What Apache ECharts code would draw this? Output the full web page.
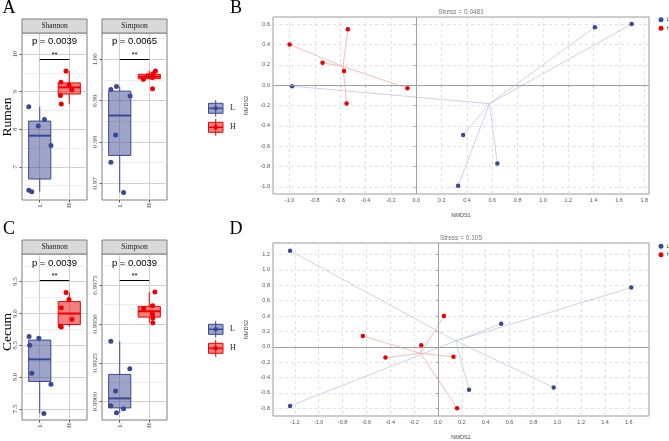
<!DOCTYPE html>
<html><head><meta charset="utf-8">
<script src="https://cdn.jsdelivr.net/npm/echarts@6/dist/echarts.min.js"></script>
<style>html,body{margin:0;padding:0;background:#fff}#c{width:669px;height:441px}</style>
</head><body><div id="c"></div>
<script>
// ---------- DATA ----------
const groups = ['L', 'H'];
// Boxplot panels: jittered x position (1 = L, 2 = H) and value of each sample
const rumenShannonL_x = [0.63, 0.95, 1.16, 1.38, 0.63, 0.73];
const rumenShannonL   = [8.60, 8.09, 8.26, 7.57, 6.38, 6.34];
const rumenShannonH_x = [1.89, 1.72, 1.70, 1.73, 1.99, 2.09];
const rumenShannonH   = [9.55, 9.25, 8.90, 8.67, 9.18, 9.05];
const rumenSimpsonL_x = [0.70, 0.89, 1.35, 0.86, 0.70, 1.13];
const rumenSimpsonL   = [0.9927, 0.9934, 0.9911, 0.9817, 0.9751, 0.9678];
const rumenSimpsonH_x = [2.21, 2.12, 1.95, 2.10, 1.80, 2.11];
const rumenSimpsonH   = [0.9972, 0.9965, 0.9960, 0.9956, 0.9952, 0.9929];
const cecumShannonL_x = [0.64, 0.97, 0.66, 0.73, 1.38, 1.14];
const cecumShannonL   = [8.64, 8.61, 8.50, 8.06, 7.89, 7.43];
const cecumShannonH_x = [1.89, 1.99, 1.73, 2.09, 1.70, 1.73];
const cecumShannonH   = [9.33, 9.22, 9.09, 8.91, 8.80, 8.79];
const cecumSimpsonL_x = [0.70, 1.34, 0.86, 0.70, 1.13, 0.89];
const cecumSimpsonL   = [0.99389, 0.99211, 0.99068, 0.98974, 0.98955, 0.98928];
const cecumSimpsonH_x = [2.19, 2.11, 1.81, 2.11, 2.12, 2.12];
const cecumSimpsonH   = [0.99705, 0.99617, 0.99600, 0.99563, 0.99538, 0.99508];

const rumenShannonTicks = [7, 8, 9, 10];
const rumenShannonMinor = [6.5, 7.5, 8.5, 9.5, 10.5];
const rumenSimpsonTicks = [0.97, 0.98, 0.99, 1.00];
const rumenSimpsonMinor = [0.975, 0.985, 0.995, 1.005];
const cecumShannonTicks = [7.5, 8.0, 8.5, 9.0, 9.5];
const cecumShannonMinor = [7.75, 8.25, 8.75, 9.25, 9.75];
const cecumSimpsonTicks = [0.9900, 0.9925, 0.9950, 0.9975];
const cecumSimpsonMinor = [0.99125, 0.99375, 0.99625, 0.99875];

const pLabels = ['p = 0.0039', 'p = 0.0065', 'p = 0.0039', 'p = 0.0039'];
const sigStars = ['**', '**', '**', '**'];
const sigBarY = [9.86, 1.000, 9.52, 0.9978];

// NMDS panels
const nmdsB_Lx = [-0.98, 0.33, 1.41, 1.70, 0.37, 0.64];
const nmdsB_Ly = [-0.01, -0.99, 0.57, 0.60, -0.49, -0.77];
const nmdsB_Hx = [-1.00, -0.74, -0.54, -0.57, -0.55, -0.07];
const nmdsB_Hy = [0.40, 0.22, 0.55, 0.14, -0.18, -0.03];
const nmdsD_Lx = [-1.24, -1.24, 1.62, 0.53, 0.97, 0.26];
const nmdsD_Ly = [1.25, -0.77, 0.77, 0.30, -0.53, -0.56];
const nmdsD_Hx = [0.05, -0.63, -0.14, -0.44, 0.13, 0.16];
const nmdsD_Hy = [0.40, 0.14, 0.02, -0.14, -0.13, -0.80];

const nmdsB_xTicks = [-1.0, -0.8, -0.6, -0.4, -0.2, 0.0, 0.2, 0.4, 0.6, 0.8, 1.0, 1.2, 1.4, 1.6, 1.8];
const nmdsB_yTicks = [-1.0, -0.8, -0.6, -0.4, -0.2, 0.0, 0.2, 0.4, 0.6];
const nmdsD_xTicks = [-1.2, -1.0, -0.8, -0.6, -0.4, -0.2, 0.0, 0.2, 0.4, 0.6, 0.8, 1.0, 1.2, 1.4, 1.6];
const nmdsD_yTicks = [-0.8, -0.6, -0.4, -0.2, 0.0, 0.2, 0.4, 0.6, 0.8, 1.0, 1.2];
const stressLabels = ['Stress = 0.0481', 'Stress = 0.105'];

// ---------- STYLE ----------
const BLUE = '#3B4992', RED = '#EE0000';
const BLUE_FILL = 'rgba(59,73,146,0.5)', RED_FILL = 'rgba(238,0,0,0.5)';
const SERIF = '"Liberation Serif","Times New Roman",serif';
const SANS = '"Liberation Sans",Arial,sans-serif';

function q7(s, p) { const h = (s.length - 1) * p, lo = Math.floor(h); const hi = Math.min(lo + 1, s.length - 1); return s[lo] + (h - lo) * (s[hi] - s[lo]); }
function boxStats(vals) {
  const s = vals.slice().sort((a, b) => a - b);
  const q1 = q7(s, .25), md = q7(s, .5), q3 = q7(s, .75), iqr = q3 - q1;
  const lo = Math.min(...s.filter(v => v >= q1 - 1.5 * iqr));
  const hi = Math.max(...s.filter(v => v <= q3 + 1.5 * iqr));
  return [lo, q1, md, q3, hi];
}
function zip(a, b) { return a.map((v, i) => [v, b[i]]); }
function boxRender(color, fill) {
  return function (params, api) {
    const x = api.value(0), hw = 0.375;
    const c = v => api.coord([x, v]);
    const lo = c(api.value(1)), q1 = c(api.value(2)), md = c(api.value(3)), q3 = c(api.value(4)), hi = c(api.value(5));
    const l = api.coord([x - hw, api.value(3)])[0], r = api.coord([x + hw, api.value(3)])[0];
    return { type: 'group', children: [
      { type: 'line', shape: { x1: lo[0], y1: lo[1], x2: q1[0], y2: q1[1] }, style: { stroke: color, lineWidth: 1 } },
      { type: 'line', shape: { x1: q3[0], y1: q3[1], x2: hi[0], y2: hi[1] }, style: { stroke: color, lineWidth: 1 } },
      { type: 'rect', shape: { x: l, y: q3[1], width: r - l, height: q1[1] - q3[1] }, style: { fill: fill, stroke: color, lineWidth: 1 } },
      { type: 'line', shape: { x1: l, y1: md[1], x2: r, y2: md[1] }, style: { stroke: color, lineWidth: 2 } }
    ] };
  };
}

const facets = [
  { left: 22, top: 33, height: 167, yMin: 6.12, yMax: 10.56, ticks: rumenShannonTicks, minor: rumenShannonMinor, dec: 0,
    Lx: rumenShannonL_x, Ly: rumenShannonL, Hx: rumenShannonH_x, Hy: rumenShannonH, title: 'Shannon', stripTop: 19, pY: 41.5 },
  { left: 102, top: 33, height: 167, yMin: 0.96596, yMax: 1.00637, ticks: rumenSimpsonTicks, minor: rumenSimpsonMinor, dec: 2,
    Lx: rumenSimpsonL_x, Ly: rumenSimpsonL, Hx: rumenSimpsonH_x, Hy: rumenSimpsonH, title: 'Simpson', stripTop: 19, pY: 41.5 },
  { left: 22, top: 254, height: 166, yMin: 7.327, yMax: 9.935, ticks: cecumShannonTicks, minor: cecumShannonMinor, dec: 1,
    Lx: cecumShannonL_x, Ly: cecumShannonL, Hx: cecumShannonH_x, Hy: cecumShannonH, title: 'Shannon', stripTop: 240, pY: 263 },
  { left: 102, top: 254, height: 166, yMin: 0.98882, yMax: 0.9995, ticks: cecumSimpsonTicks, minor: cecumSimpsonMinor, dec: 4,
    Lx: cecumSimpsonL_x, Ly: cecumSimpsonL, Hx: cecumSimpsonH_x, Hy: cecumSimpsonH, title: 'Simpson', stripTop: 240, pY: 263 }
];
const FW = 65;

const grid = [], xAxis = [], yAxis = [], series = [], graphic = [];

facets.forEach((f, i) => {
  grid.push({ left: f.left, top: f.top, width: FW, height: f.height, show: true, borderColor: '#7F7F7F', borderWidth: 1, backgroundColor: '#fff' });
  xAxis.push({ type: 'value', gridIndex: i, min: 0.4, max: 2.6,
    axisLine: { show: false },
    axisTick: { show: true, customValues: [1, 2], length: 2.5, lineStyle: { color: '#333', width: 0.8 } },
    axisLabel: { customValues: [1, 2], formatter: v => groups[Math.round(v) - 1], rotate: 90, fontFamily: SERIF, fontSize: 7, color: '#4D4D4D', margin: 3 },
    splitLine: { show: true, lineStyle: { color: '#D0D0D0', width: 1 } } });
  yAxis.push({ type: 'value', gridIndex: i, min: f.yMin, max: f.yMax, position: 'left',
    axisLine: { show: false },
    axisTick: { show: true, customValues: f.ticks, length: 2.5, lineStyle: { color: '#333', width: 0.8 } },
    axisLabel: { customValues: f.ticks, formatter: v => v.toFixed(f.dec), rotate: 90, fontFamily: SERIF, fontSize: 7, color: '#4D4D4D', margin: 3 },
    splitLine: { show: true, lineStyle: { color: '#D0D0D0', width: 1 } } });
  yAxis.push({ type: 'value', gridIndex: i, min: f.yMin, max: f.yMax, position: 'left',
    axisLine: { show: false }, axisLabel: { show: false },
    axisTick: { show: false, customValues: f.minor },
    splitLine: { show: true, lineStyle: { color: '#E8E8E8', width: 0.8 } } });
  const yi = i * 2;
  series.push({ type: 'custom', name: 'boxL' + i, xAxisIndex: i, yAxisIndex: yi, silent: true, z: 2,
    renderItem: boxRender(BLUE, BLUE_FILL), encode: { x: 0, y: [1, 2, 3, 4, 5] }, data: [[1].concat(boxStats(f.Ly))] });
  series.push({ type: 'custom', name: 'boxH' + i, xAxisIndex: i, yAxisIndex: yi, silent: true, z: 2,
    renderItem: boxRender(RED, RED_FILL), encode: { x: 0, y: [1, 2, 3, 4, 5] }, data: [[2].concat(boxStats(f.Hy))] });
  series.push({ type: 'scatter', name: 'ptL' + i, xAxisIndex: i, yAxisIndex: yi, symbolSize: 5, z: 3, silent: true,
    itemStyle: { color: BLUE, opacity: 1 }, data: zip(f.Lx, f.Ly) });
  series.push({ type: 'scatter', name: 'ptH' + i, xAxisIndex: i, yAxisIndex: yi, symbolSize: 5, z: 3, silent: true,
    itemStyle: { color: RED, opacity: 1 }, data: zip(f.Hx, f.Hy),
    markLine: { silent: true, symbol: 'none', animation: false,
      lineStyle: { color: '#000', width: 1, type: 'solid', opacity: 1 },
      label: { show: true, formatter: sigStars[i], position: 'insideMiddleTop', distance: 1, fontSize: 8, color: '#000', fontFamily: SANS },
      emphasis: { disabled: true },
      data: [[{ coord: [1, sigBarY[i]] }, { coord: [2, sigBarY[i]] }]] } });
  // strip
  graphic.push({ type: 'rect', shape: { x: f.left, y: f.stripTop, width: FW, height: f.top - f.stripTop }, style: { fill: '#D9D9D9', stroke: '#7F7F7F', lineWidth: 1 }, z: 10 });
  graphic.push({ type: 'text', x: f.left + FW / 2, y: f.stripTop + (f.top - f.stripTop) / 2 + 0.5, style: { text: f.title, fontFamily: SERIF, fontSize: 7.5, fill: '#1A1A1A', align: 'center', verticalAlign: 'middle' }, z: 11 });
  graphic.push({ type: 'text', x: f.left + FW / 2, y: f.pY, style: { text: pLabels[i], fontFamily: SANS, fontSize: 9.5, fill: '#000', align: 'center', verticalAlign: 'middle' }, z: 11 });
});

// NMDS panels
const nmds = [
  { left: 273, top: 17, xMin: -1.131, xMax: 1.837, yMin: -1.07, yMax: 0.67, xt: nmdsB_xTicks, yt: nmdsB_yTicks,
    Lx: nmdsB_Lx, Ly: nmdsB_Ly, Hx: nmdsB_Hx, Hy: nmdsB_Hy, stress: stressLabels[0] },
  { left: 273, top: 243, xMin: -1.383, xMax: 1.769, yMin: -0.90, yMax: 1.35, xt: nmdsD_xTicks, yt: nmdsD_yTicks,
    Lx: nmdsD_Lx, Ly: nmdsD_Ly, Hx: nmdsD_Hx, Hy: nmdsD_Hy, stress: stressLabels[1] }
];
const NW = 376, NH = 177;
const mean = a => a.reduce((s, v) => s + v, 0) / a.length;
nmds.forEach((n, k) => {
  const gi = 4 + k, yi = 8 + k;
  grid.push({ left: n.left, top: n.top, width: NW, height: NH, show: true, borderColor: '#9A9A9A', borderWidth: 1 });
  const lab = { fontFamily: SANS, fontSize: 5.5, color: '#555', margin: 3, formatter: v => v.toFixed(1) };
  xAxis.push({ type: 'value', gridIndex: gi, min: n.xMin, max: n.xMax, name: 'NMDS1', nameLocation: 'middle', nameGap: 18,
    nameTextStyle: { fontFamily: SANS, fontSize: 5.5, color: '#444' },
    axisLine: { show: false },
    axisTick: { show: true, customValues: n.xt, length: 2, lineStyle: { color: '#9A9A9A', width: 0.8 } },
    axisLabel: Object.assign({ customValues: n.xt }, lab),
    splitLine: { show: true, lineStyle: { color: '#DADADA', type: [3, 3], width: 0.8 } } });
  yAxis.push({ type: 'value', gridIndex: gi, min: n.yMin, max: n.yMax, name: 'NMDS2', nameLocation: 'middle', nameGap: 23,
    nameTextStyle: { fontFamily: SANS, fontSize: 5.5, color: '#444' },
    axisLine: { show: false },
    axisTick: { show: true, customValues: n.yt, length: 2, lineStyle: { color: '#9A9A9A', width: 0.8 } },
    axisLabel: Object.assign({ customValues: n.yt }, lab),
    splitLine: { show: true, lineStyle: { color: '#DADADA', type: [3, 3], width: 0.8 } } });
  const grp = [
    { name: 'L', xs: n.Lx, ys: n.Ly, color: BLUE, line: '#C9CCE3' },
    { name: 'H', xs: n.Hx, ys: n.Hy, color: RED, line: '#F6B4B4' }
  ];
  grp.forEach((g, j) => {
    const cx = mean(g.xs), cy = mean(g.ys);
    series.push({ type: 'lines', coordinateSystem: 'cartesian2d', xAxisIndex: gi, yAxisIndex: yi, silent: true, z: 2,
      lineStyle: { color: g.line, width: 0.9, opacity: 1 },
      data: g.xs.map((x, i) => ({ coords: [[x, g.ys[i]], [cx, cy]] })) });
  });
  grp.forEach((g, j) => {
    const s = { type: 'scatter', name: g.name, xAxisIndex: gi, yAxisIndex: yi, symbolSize: 4.5, z: 4, silent: true,
      itemStyle: { color: g.color, opacity: 1 }, data: zip(g.xs, g.ys) };
    if (j === 0) {
      s.markLine = { silent: true, symbol: 'none', animation: false, label: { show: false }, emphasis: { disabled: true },
        lineStyle: { color: '#A0A0A0', width: 1, type: 'solid', opacity: 1 }, data: [{ xAxis: 0 }, { yAxis: 0 }] };
    }
    series.push(s);
  });
  graphic.push({ type: 'text', x: n.left + NW / 2, y: n.top - 5, style: { text: n.stress, fontFamily: SANS, fontSize: 6.5, fill: '#777', align: 'center', verticalAlign: 'middle' } });
});

// Middle legends (box glyphs)
[108.3, 329.3].forEach(cy => {
  [{ c: BLUE, f: BLUE_FILL, t: 'L', y: cy }, { c: RED, f: RED_FILL, t: 'H', y: cy + 19 }].forEach(it => {
    graphic.push({ type: 'line', shape: { x1: 215.7, y1: it.y - 8.3, x2: 215.7, y2: it.y + 8.4 }, style: { stroke: it.c, lineWidth: 1 } });
    graphic.push({ type: 'rect', shape: { x: 208.5, y: it.y - 5, width: 14.5, height: 10 }, style: { fill: it.f, stroke: it.c, lineWidth: 1 } });
    graphic.push({ type: 'line', shape: { x1: 208.5, y1: it.y, x2: 223, y2: it.y }, style: { stroke: it.c, lineWidth: 1.5 } });
    graphic.push({ type: 'circle', shape: { cx: 215.7, cy: it.y, r: 2.3 }, style: { fill: it.c } });
    graphic.push({ type: 'text', x: 230, y: it.y, style: { text: it.t, fontFamily: SERIF, fontSize: 8, fill: '#1A1A1A', align: 'left', verticalAlign: 'middle' } });
  });
});

// Panel letters and row labels
[['A', 9, 8.5], ['B', 236, 8.5], ['C', 9, 229], ['D', 236, 229]].forEach(a => {
  graphic.push({ type: 'text', x: a[1], y: a[2], style: { text: a[0], fontFamily: SERIF, fontSize: 18, fill: '#000', align: 'center', verticalAlign: 'middle' } });
});
[['Rumen', 117], ['Cecum', 332]].forEach(a => {
  graphic.push({ type: 'text', x: 7, y: a[1], rotation: Math.PI / 2, style: { text: a[0], fontFamily: SERIF, fontSize: 13.5, fill: '#000', align: 'center', verticalAlign: 'middle' } });
});

const legendStyle = { orient: 'vertical', icon: 'circle', itemWidth: 5, itemHeight: 5, itemGap: 2.5, padding: 0, selectedMode: false,
  textStyle: { fontFamily: SANS, fontSize: 5.5, color: '#444', padding: [0, 0, 0, -2] } };
const legend = [
  Object.assign({ left: 658.5, top: 16.8, data: [{ name: 'L', itemStyle: { color: BLUE, opacity: 1 } }, { name: 'H', itemStyle: { color: RED, opacity: 1 } }] }, legendStyle),
  Object.assign({ left: 658.5, top: 243.2, data: [{ name: 'L', itemStyle: { color: BLUE, opacity: 1 } }, { name: 'H', itemStyle: { color: RED, opacity: 1 } }] }, legendStyle)
];

const chart = echarts.init(document.getElementById('c'), null, { renderer: 'canvas', width: 669, height: 441 });
chart.setOption({ animation: false, backgroundColor: '#fff', grid, xAxis, yAxis, series, graphic, legend });
</script></body></html>
